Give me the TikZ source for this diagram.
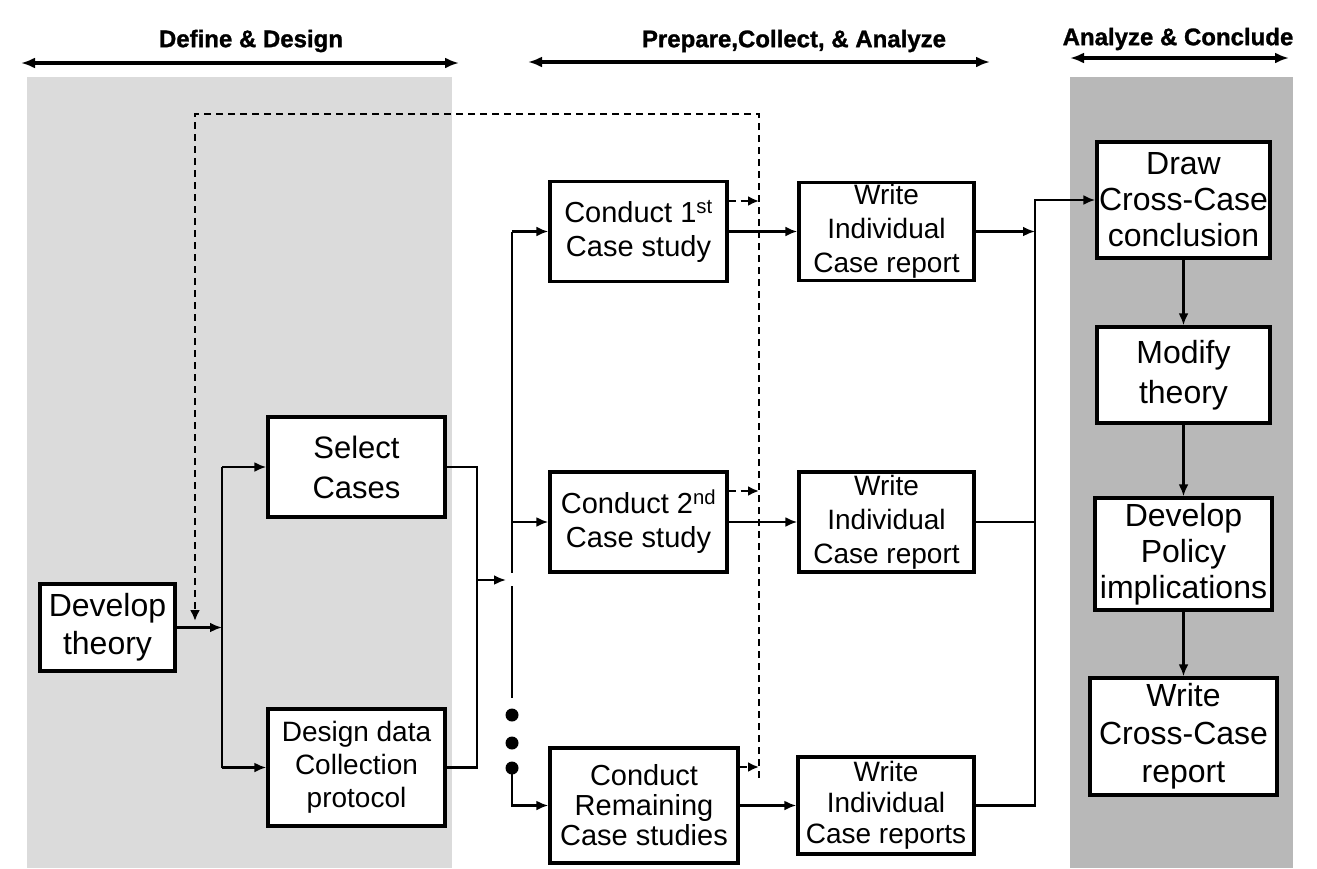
\documentclass[tikz,border=0pt]{standalone}
\usepackage{fontspec}
\setmainfont{Liberation Sans}
\newfontfamily\hdrfont{Liberation Sans}[BoldFeatures={FakeBold=1.2}]
\usetikzlibrary{arrows.meta}
\newcommand\myfs[2]{\fontsize{#1}{#2}\selectfont}
\begin{document}
\begin{tikzpicture}[x=1pt,y=-1pt,
  box/.style={draw,line width=3.4pt,fill=white,align=center,inner sep=0pt},
  conn/.style={line width=2.8pt,-{Latex[length=12pt,width=10pt]}},
  plain/.style={line width=2.8pt},
  fb/.style={line width=2.6pt,dash pattern=on 7pt off 5pt},
  fbarrow/.style={fb,-{Latex[length=11pt,width=10pt]}},
  hdr/.style={font=\hdrfont\myfs{24}{28}\bfseries},
  harr/.style={line width=3.4pt,{Latex[length=14pt,width=11pt]}-{Latex[length=14pt,width=11pt]}},
  dotn/.style={circle,fill=black,minimum size=13pt,inner sep=0pt}
]
\useasboundingbox (0,0) rectangle (1317,868);
\fill[white] (0,0) rectangle (1317,868);
% shaded phases
\fill[black!14] (27,77) rectangle (452,868);
\fill[black!28] (1070,77) rectangle (1293,868);

% headers
\node[hdr] (h1) at (251,41) {Define \& Design};
\node[hdr] (h2) at (794,41) {Prepare,Collect, \& Analyze};
\node[hdr] (h3) at (1178,39) {Analyze \& Conclude};
\coordinate (h1a) at (21,63);  \coordinate (h1b) at (459,63);
\coordinate (h2a) at (528,62); \coordinate (h2b) at (990,62);
\coordinate (h3a) at (1070,58); \coordinate (h3b) at (1289,58);
\draw[harr] (h1a) -- (h1b);
\draw[harr] (h2a) -- (h2b);
\draw[harr] (h3a) -- (h3b);

% boxes
\node[box,minimum width=135pt,minimum height=87pt,font=\myfs{32}{38}] (dev) at (107.5,627.5) {Develop\\theory};
\node[box,minimum width=177pt,minimum height=100pt,font=\myfs{31}{40}] (sel) at (356.5,467) {Select\\Cases};
\node[box,minimum width=177pt,minimum height=117pt,font=\myfs{28}{33}] (des) at (356.5,767.5) {Design data\\Collection\\protocol};
\node[box,minimum width=177pt,minimum height=100pt,font=\myfs{29}{34}] (c1) at (638.5,231.5) {Conduct 1\textsuperscript{st}\\Case study};
\node[box,minimum width=177pt,minimum height=100pt,font=\myfs{29}{34}] (c2) at (638.5,522) {Conduct 2\textsuperscript{nd}\\Case study};
\node[box,minimum width=188pt,minimum height=115pt,font=\myfs{29}{30}] (c3) at (644,805.5) {Conduct\\Remaining\\Case studies};
\node[box,minimum width=175pt,minimum height=98pt,font=\myfs{28}{34}] (w1) at (886.5,231.5) {Write\\Individual\\Case report};
\node[box,minimum width=175pt,minimum height=100pt,font=\myfs{28}{34}] (w2) at (886.5,522) {Write\\Individual\\Case report};
\node[box,minimum width=176pt,minimum height=97pt,font=\myfs{28}{31}] (w3) at (886,805.5) {Write\\Individual\\Case reports};
\node[box,minimum width=173pt,minimum height=116pt,font=\myfs{32}{36}] (drw) at (1183.5,200) {Draw\\Cross-Case\\conclusion};
\node[box,minimum width=173pt,minimum height=96pt,font=\myfs{32}{40}] (mod) at (1183.5,375) {Modify\\theory};
\node[box,minimum width=177pt,minimum height=112pt,font=\myfs{32}{36}] (pol) at (1183.5,554) {Develop\\Policy\\implications};
\node[box,minimum width=187pt,minimum height=117pt,font=\myfs{32}{38}] (wcr) at (1183.5,736.5) {Write\\Cross-Case\\report};

% left distribution
\coordinate (vA) at (222,0);
\draw[conn] (dev.east) -- (dev.east -| vA);
\draw[plain] (vA |- sel.west) -- (vA |- des.west);
\draw[conn] (vA |- sel.west) -- (sel.west);
\draw[conn] (vA |- des.west) -- (des.west);

% bracket joining select / design
\coordinate (vB) at (477,0);
\draw[plain] (sel.east) -- (sel.east -| vB) -- (des.east -| vB) -- (des.east);
\coordinate (bm) at (477,580);
\coordinate (bmt) at (506,580);
\draw[conn] (bm) -- (bmt);

% distribution to case studies
\coordinate (vC) at (512,0);
\coordinate (g1) at (512,573);
\coordinate (g2) at (512,586);
\coordinate (g3) at (512,698);
\coordinate (g4) at (512,770);
\draw[plain] (vC |- c1.west) -- (g1);
\draw[plain] (g2) -- (g3);
\draw[conn] (vC |- c1.west) -- (c1.west);
\draw[conn] (vC |- c2.west) -- (c2.west);
\draw[conn] (g4) -- (g4 |- c3.west) -- (c3.west);
\node[dotn] (d1) at (512,715) {};
\node[dotn] (d2) at (512,743) {};
\node[dotn] (d3) at (512,768) {};

% case study to report
\draw[conn] (c1.east) -- (w1.west);
\draw[conn] (c2.east) -- (w2.west);
\draw[conn] (c3.east) -- (w3.west);

% collection to cross-case
\coordinate (vD) at (1035,0);
\draw[conn] (w1.east) -- (w1.east -| vD);
\draw[plain] (w2.east) -- (w2.east -| vD);
\draw[conn] (w3.east) -- (w3.east -| vD) -- (vD |- drw.west) -- (drw.west);

% right column
\draw[conn] (drw.south) -- (mod.north);
\draw[conn] (mod.south) -- (pol.north);
\draw[conn] (pol.south) -- (wcr.north);

% dashed feedback loop
\coordinate (fA) at (195,114);
\coordinate (fB) at (759,114);
\coordinate (fC) at (759,778);
\coordinate (fD) at (195,621);
\draw[fbarrow] (fC) -- (fB) -- (fA) -- (fD);
\coordinate (k1) at (0,201);
\coordinate (k2) at (0,491);
\coordinate (k3) at (0,767);
\draw[fbarrow] (c1.east |- k1) -- (fB |- k1);
\draw[fbarrow] (c2.east |- k2) -- (fB |- k2);
\draw[fbarrow] (c3.east |- k3) -- (fB |- k3);
\end{tikzpicture}
\end{document}
